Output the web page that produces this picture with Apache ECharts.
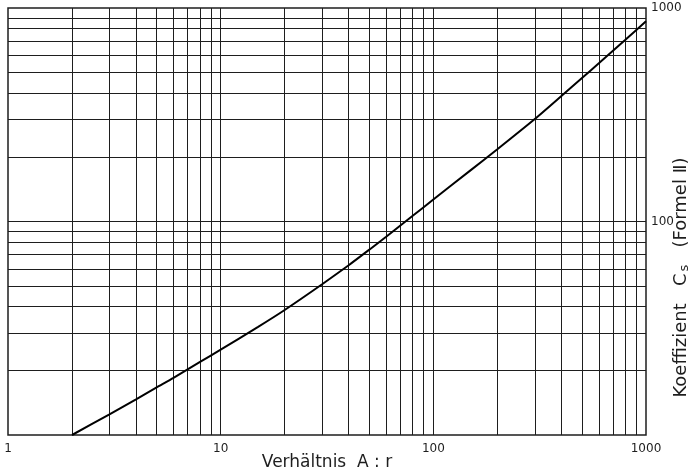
<!DOCTYPE html>
<html>
<head>
<meta charset="utf-8">
<script src="https://cdn.jsdelivr.net/npm/echarts@6/dist/echarts.min.js"></script>
<style>
  html, body { margin: 0; padding: 0; background: #fff; }
  #chart { width: 696px; height: 471px; }
</style>
</head>
<body>
<div id="chart"></div>
<script>
// Verhältnis A:r  ->  Koeffizient Cs
const ratio = [2, 3, 4, 5, 6, 8, 10, 15, 20, 30, 40, 50, 60, 80, 100, 150, 200, 300, 400, 500, 600, 800, 1000];
const coeff = [10, 12.5, 14.7, 16.7, 18.5, 22, 25.1, 32.1, 38.5, 50.8, 62.4, 73.8, 84.9, 106.3, 126.8, 174, 218, 302, 387, 470, 551, 710, 866];

// log paper rulings
const gridX = [2, 3, 4, 5, 6, 7, 8, 9, 10, 20, 30, 40, 50, 60, 70, 80, 90, 100, 200, 300, 400, 500, 600, 700, 800, 900];
const gridY = [20, 30, 40, 50, 60, 70, 80, 90, 100, 200, 300, 400, 500, 600, 700, 800, 900];
const yLabels = [100, 1000];

const ink = '#1e1e1e';
const chart = echarts.init(document.getElementById('chart'));

const rules = gridX.map(v => ({ xAxis: v })).concat(gridY.map(v => ({ yAxis: v })));

const option = {
  backgroundColor: '#fff',
  animation: false,
  textStyle: { fontFamily: 'DejaVu Sans' },
  grid: {
    left: 8, right: 50, top: 8, bottom: 36,
    outerBoundsMode: 'none',
    containLabel: false,
    show: true, borderColor: ink, borderWidth: 1.5, backgroundColor: 'transparent'
  },
  xAxis: {
    type: 'log', logBase: 10, min: 1, max: 1000,
    name: 'Verhältnis  A : r',
    nameLocation: 'middle', nameGap: 19, nameMoveOverlap: false,
    nameTextStyle: { fontSize: 17, color: ink },
    axisLine: { show: false },
    axisTick: { show: false },
    splitLine: { show: false },
    axisLabel: {
      fontSize: 12, color: ink, margin: 8,
      formatter: v => String(Math.round(v))
    }
  },
  yAxis: {
    type: 'log', logBase: 10, min: 10, max: 1000,
    position: 'right',
    name: '{n|Koeffizient   C}{s|s}{n|   (Formel Ⅱ)}',
    nameLocation: 'middle', nameRotate: 90, nameGap: 26, nameMoveOverlap: false,
    nameTextStyle: {
      padding: [0, 112, 0, 0],
      rich: {
        n: { fontSize: 18, color: ink },
        s: { fontSize: 13, color: ink, verticalAlign: 'bottom', padding: [6, 0, 0, 2] }
      }
    },
    axisLine: { show: false },
    axisTick: { show: false },
    splitLine: { show: false },
    axisLabel: {
      fontSize: 12, color: ink, margin: 5, align: 'left',
      formatter: v => (yLabels.indexOf(Math.round(v)) >= 0 ? String(Math.round(v)) : '')
    }
  },
  series: [{
    type: 'line',
    data: ratio.map((r, i) => [r, coeff[i]]),
    smooth: 0.2,
    symbol: 'none',
    lineStyle: { color: '#000', width: 2 },
    z: 5,
    markLine: {
      silent: true,
      symbol: 'none',
      label: { show: false },
      lineStyle: { color: ink, width: 1, type: 'solid' },
      data: rules
    }
  }]
};

chart.setOption(option);
</script>
</body>
</html>
